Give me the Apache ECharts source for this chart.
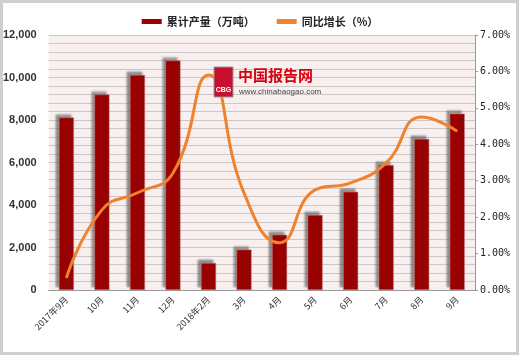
<!DOCTYPE html>
<html><head><meta charset="utf-8">
<script src="https://cdn.jsdelivr.net/npm/echarts@6/dist/echarts.min.js"></script>
<style>html,body{margin:0;padding:0;background:#fff}#c{width:520px;height:356px}</style>
</head><body><div id="c"></div>
<script>
const categories = ['2017年9月','10月','11月','12月','2018年2月','3月','4月','5月','6月','7月','8月','9月'];
const output = [8120, 9200, 10120, 10800, 1270, 1900, 2600, 3530, 4620, 5880, 7110, 8300];
const growth = [0.33, 2.20, 2.67, 3.21, 5.90, 2.66, 1.30, 2.75, 2.94, 3.49, 4.75, 4.36];
const leftTicks = [0, 2000, 4000, 6000, 8000, 10000, 12000];
const rightTicks = [0, 1, 2, 3, 4, 5, 6, 7];
const seriesNames = ['累计产量（万吨）', '同比增长（%）'];

const chart = echarts.init(document.getElementById('c'), null, {renderer: 'canvas'});
chart.setOption({
  animation: false,
  backgroundColor: '#fff',
  graphic: [
    {type: 'rect', shape: {x: 1.5, y: 1.5, width: 516, height: 352}, style: {fill: 'none', stroke: '#cfcfcf', lineWidth: 3}, z: 100},
    {type: 'rect', shape: {x: 214, y: 67, width: 19, height: 30}, style: {fill: '#c8102e', stroke: '#999', lineWidth: 1}, z: 50},
    {type: 'text', style: {x: 223.5, y: 87, text: 'CBG', fill: '#fff', font: 'bold 7px Arial', textAlign: 'center'}, z: 51},
    {type: 'text', style: {x: 238, y: 68, text: '中国报告网', fill: '#d7000f', font: 'bold 15px "Noto Sans CJK SC"'}, z: 50},
    {type: 'text', style: {x: 239, y: 88, text: 'www.chinabaogao.com', fill: '#444', font: '8px Arial'}, z: 50}
  ],
  legend: {
    top: 11, left: 'center', itemGap: 22, itemWidth: 20, itemHeight: 5,
    textStyle: {fontFamily: '"Noto Sans CJK SC"', fontSize: 11, fontWeight: 'bold', color: '#222'},
    data: [
      {name: seriesNames[0], icon: 'rect', itemStyle: {color: '#9B0000', borderWidth: 0, shadowBlur: 0, shadowOffsetX: 0, shadowOffsetY: 0, shadowColor: 'transparent'}},
      {name: seriesNames[1], icon: 'rect', itemStyle: {color: '#F0812D', borderWidth: 0}}
    ]
  },
  grid: {left: 48, right: 45, top: 35, bottom: 66, show: true, backgroundColor: '#F8EFEF', borderWidth: 0},
  xAxis: {
    type: 'category', data: categories,
    axisLine: {lineStyle: {color: '#999'}}, axisTick: {show: false},
    axisLabel: {rotate: 45, interval: 0, fontSize: 9, color: '#333', fontFamily: '"Noto Sans CJK SC"', margin: 8}
  },
  yAxis: [
    {
      type: 'value', min: leftTicks[0], max: leftTicks[leftTicks.length - 1], interval: 2000,
      axisLine: {show: false}, axisTick: {show: false},
      axisLabel: {fontSize: 11, fontWeight: 'bold', color: '#333', fontFamily: 'Arial, "Liberation Sans"', margin: 12,
        formatter: v => v.toLocaleString('en-US')},
      splitLine: {show: true, lineStyle: {color: '#cdc6c6', width: 1}},
      minorTick: {show: false, splitNumber: 5},
      minorSplitLine: {show: true, lineStyle: {color: '#cdc6c6', width: 1}}
    },
    {
      type: 'value', min: rightTicks[0], max: rightTicks[rightTicks.length - 1], interval: 1, position: 'right',
      axisLine: {show: true, lineStyle: {color: '#999'}},
      axisTick: {show: true, length: 3, lineStyle: {color: '#999'}},
      axisLabel: {fontSize: 10, color: '#222', fontFamily: '"DejaVu Sans Mono", monospace', margin: 5,
        formatter: v => v.toFixed(2) + '%'},
      splitLine: {show: false}
    }
  ],
  series: [
    {
      name: seriesNames[0], type: 'bar', data: output, barWidth: 15, yAxisIndex: 0,
      itemStyle: {color: '#9B0000', borderColor: '#c98080', borderWidth: 0.5,
        shadowColor: 'rgba(60,60,60,0.55)', shadowBlur: 2, shadowOffsetX: -3, shadowOffsetY: -3}
    },
    {
      name: seriesNames[1], type: 'line', data: growth, yAxisIndex: 1, smooth: 0.5,
      showSymbol: false, symbol: 'none',
      lineStyle: {color: '#F0812D', width: 3}, itemStyle: {color: '#F0812D'}, z: 10
    }
  ]
});
</script></body></html>
